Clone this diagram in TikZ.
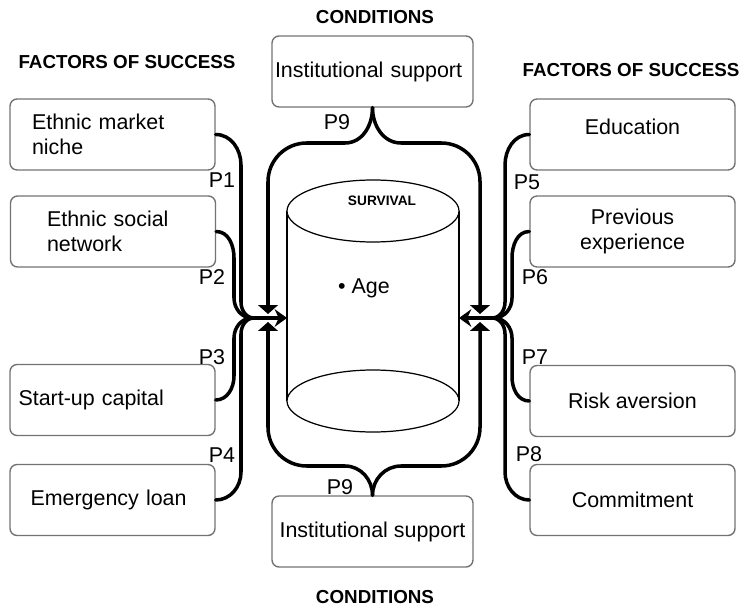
\documentclass[tikz,border=0pt]{standalone}
\usepackage{fontspec}
\setsansfont{Liberation Sans}
\usetikzlibrary{arrows.meta,positioning}

\begin{document}
\begin{tikzpicture}[x=0.02cm, y=-0.02cm,
    every node/.style={font=\sffamily\fontsize{12.2}{14.2}\selectfont},
    factor/.style={draw=black!55, line width=0.8pt, rounded corners=4pt, minimum width=4.1cm,
        minimum height=1.42cm, inner sep=0pt, align=center},
    head/.style={font=\sffamily\bfseries\fontsize{10.7}{12}\selectfont},
    link/.style={line width=2pt, line cap=round},
    tag/.style={inner sep=0pt}]
    \useasboundingbox (0,0) rectangle (742,607);

    % headings
    \node[head] (leftHead) at (127,62) {FACTORS OF SUCCESS};
    \node[head] (rightHead) at (631,70) {FACTORS OF SUCCESS};
    \node[head] (topHead) at (375,17) {CONDITIONS};
    \node[head] (botHead) at (375,597) {CONDITIONS};

    % factors of success
    \node[factor, text width=3.22cm, align=left] (Niche) at (112.5,134.5) {Ethnic market\\niche};
    \node[factor, text width=2.64cm, align=left] (Network) at (113,231.5) {Ethnic social\\network};
    \node[factor, text width=3.76cm, align=left] (Capital) at (112.5,400) {Start-up capital};
    \node[factor, text width=3.28cm, align=left] (Loan) at (112.5,500) {Emergency loan};
    \node[factor, text depth=9pt] (Education) at (632.5,134.5) {Education};
    \node[factor] (Experience) at (632.5,231.5) {Previous\\experience};
    \node[factor] (Risk) at (632.5,401) {Risk aversion};
    \node[factor] (Commitment) at (632.5,500) {Commitment};

    % conditions
    \node[factor, minimum width=4.02cm, text width=3.9cm, align=left] (InstTop) at (372.5,71.5) {Institutional support};
    \node[factor, minimum width=4.02cm] (InstBot) at (372.5,531.5) {Institutional support};

    % survival cylinder
    \draw[line width=0.7pt] (287,211) -- (287,401) (459,211) -- (459,401);
    \draw[line width=0.7pt, fill=white] (373,401) ellipse [x radius=86, y radius=31];
    \draw[line width=0.7pt, fill=white] (373,211) ellipse [x radius=86, y radius=31];
    \node[font=\sffamily\bfseries\fontsize{7.8}{9}\selectfont] (Survival) at (382,201) {SURVIVAL};
    \node (Age) at (364,288) {\textbullet\ Age};
    \coordinate (cylL) at (287,318);
    \coordinate (cylR) at (459,318);
    \coordinate (joinL) at (250,318);
    \coordinate (joinR) at (496,318);

    % left bundle
    \draw[link] (Niche.east) to[out=0,in=90] (241,165) -- (241,302) to[out=-90,in=180] (254,318);
    \draw[link] (Network.east) to[out=0,in=90] (234,258) -- (234,298) to[out=-90,in=180] (252,318);
    \draw[link] (Capital.east) to[out=0,in=-90] (234,376) -- (234,338) to[out=90,in=180] (252,318);
    \draw[link] (Loan.east) to[out=0,in=-90] (241,472) -- (241,334) to[out=90,in=180] (254,318);
    \draw[link, -{Stealth[width=10pt,length=7pt]}] (joinL) -- (cylL);

    % right bundle
    \draw[link] (Education.west) to[out=180,in=90] (505,165) -- (505,302) to[out=-90,in=0] (492,318);
    \draw[link] (Experience.west) to[out=180,in=90] (512,258) -- (512,298) to[out=-90,in=0] (494,318);
    \draw[link] (Risk.west) to[out=180,in=-90] (512,377) -- (512,338) to[out=90,in=0] (494,318);
    \draw[link] (Commitment.west) to[out=180,in=-90] (505,472) -- (505,334) to[out=90,in=0] (492,318);
    \draw[link, -{Stealth[width=10pt,length=7pt]}] (joinR) -- (cylR);

    % conditions braces
    \draw[link, -{Triangle[width=11pt,length=5pt]}] (InstTop.south) to[out=-90,in=0] (345,143)
        [rounded corners=22] -- (268,143) -- (268,314);
    \draw[link, -{Triangle[width=11pt,length=5pt]}] (InstTop.south) to[out=-90,in=180] (401,143)
        [rounded corners=22] -- (480,143) -- (480,314);
    \draw[link, -{Triangle[width=11pt,length=5pt]}] (InstBot.north) to[out=90,in=0] (345,466)
        [rounded corners=22] -- (268,466) -- (268,322);
    \draw[link, -{Triangle[width=11pt,length=5pt]}] (InstBot.north) to[out=90,in=180] (401,466)
        [rounded corners=22] -- (480,466) -- (480,322);

    % propositions
    \node[tag] (p1) at (222,180) {P1};
    \node[tag] (p2) at (212,277) {P2};
    \node[tag] (p3) at (212,357) {P3};
    \node[tag] (p4) at (222,455) {P4};
    \node[tag] (p5) at (527,182) {P5};
    \node[tag] (p6) at (535,277) {P6};
    \node[tag] (p7) at (535,357) {P7};
    \node[tag] (p8) at (529,454) {P8};
    \node[tag] (p9a) at (337,122) {P9};
    \node[tag] (p9b) at (340,487) {P9};
\end{tikzpicture}
\end{document}
